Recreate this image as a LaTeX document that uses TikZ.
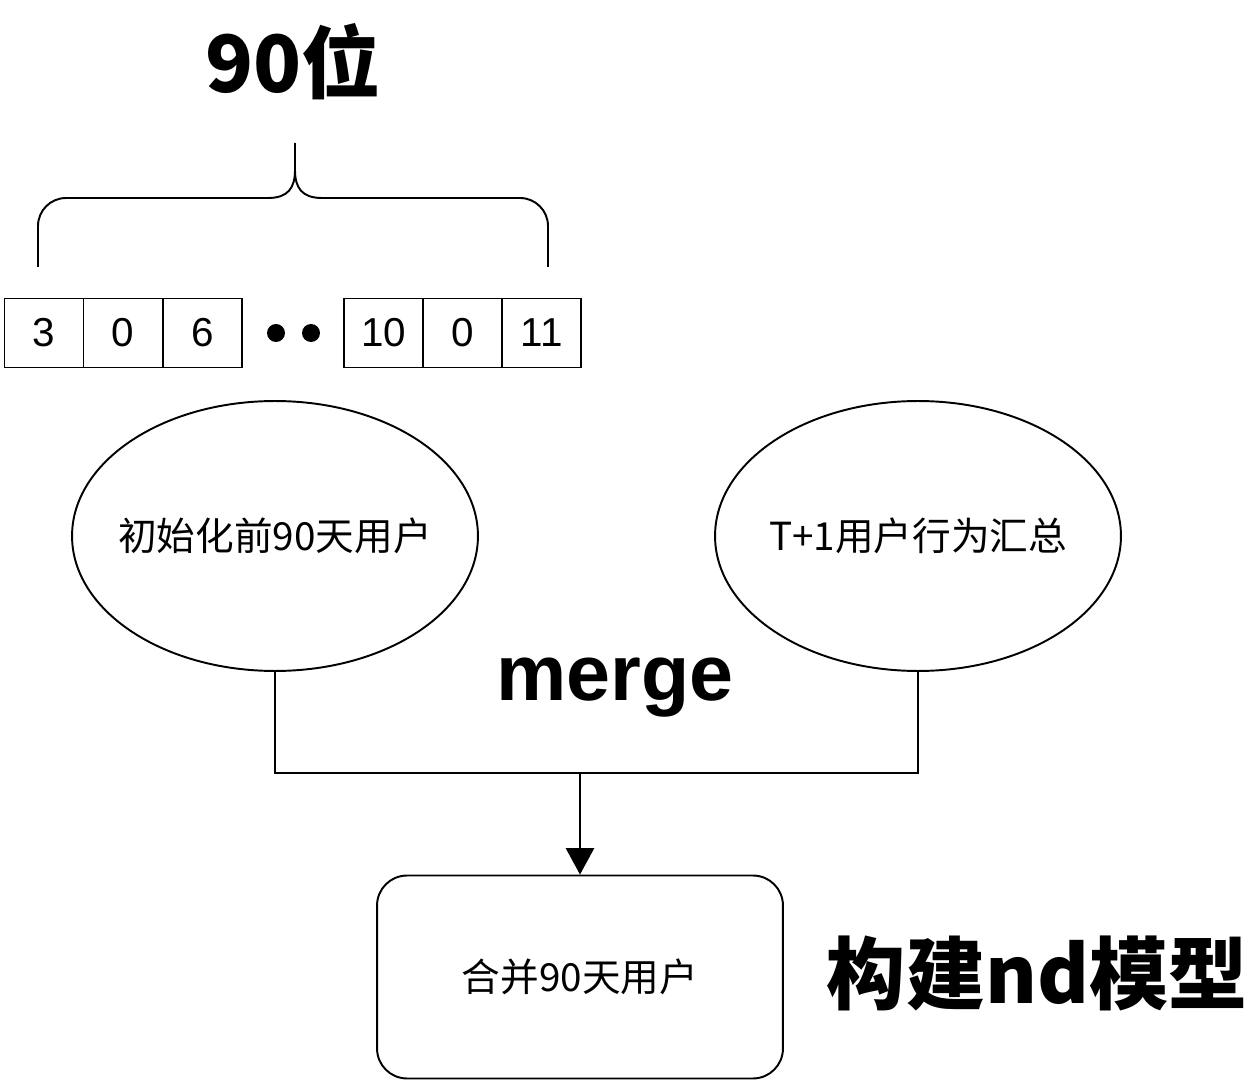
\documentclass[tikz,border=0pt]{standalone}
\usepackage{fontspec}
\setmainfont{Liberation Sans}
\newfontfamily\cjk{Noto Sans CJK SC}
\usetikzlibrary{shapes.geometric,arrows.meta}
\begin{document}
\begin{tikzpicture}[x=0.02cm,y=-0.02cm,
  line width=1.1pt,
  cell/.style={draw,minimum width=1.58cm,minimum height=1.38cm,inner sep=0,font=\fontsize{23}{26}\selectfont},
  oval/.style={draw,ellipse,minimum width=8.12cm,minimum height=5.4cm,inner sep=0},
  ovaltxt/.style={font=\cjk\fontsize{22}{26}\selectfont,inner sep=0},
  bigtxt/.style={font=\cjk\bfseries\fontsize{45}{50}\selectfont},
  rbox/.style={draw,rounded corners=0.6cm,minimum width=8.12cm,minimum height=4.06cm,inner sep=0,font=\cjk\fontsize{22}{26}\selectfont}]
\useasboundingbox (0,0) rectangle (1252,1084);
% title
\node[bigtxt] (t90) at (293,62) {90位};
% brace
\draw[rounded corners=0.56cm] (38,267) -- (38,198) -- (200,198);
\draw (200,198) -- (268,198) .. controls (288,198) and (295,188) .. (295,170) -- (295,143);
\draw[rounded corners=0.56cm] (548,267) -- (548,198) -- (400,198);
\draw (400,198) -- (322,198) .. controls (302,198) and (295,188) .. (295,170);
% cells
\node[cell] (c1) at (44,333) {3};
\node[cell] (c2) at (123,333) {0};
\node[cell] (c3) at (202.5,333) {6};
\fill (276,333) circle (9);
\fill (311,333) circle (9);
\node[cell] (c4) at (383.5,333) {10};
\node[cell] (c5) at (462.5,333) {0};
\node[cell] (c6) at (541.5,333) {11};
% ellipses
\node[oval] (e1) at (275,536) {};
\node[ovaltxt] (e1t) at (e1.center) {初始化前90天用户};
\node[oval] (e2) at (918,536) {};
\node[ovaltxt] (e2t) at (e2.center) {T+1用户行为汇总};
\node[font=\bfseries\fontsize{45}{50}\selectfont] (mg) at (615,688) {merge};
% result
\node[rbox] (r) at (580,977) {合并90天用户};
\node[bigtxt,anchor=west,inner sep=0] (nd) at (826,973) {构建nd模型};
% connectors
\coordinate (j) at (580,773);
\draw (e1.south) |- (j) -| (e2.south);
\draw[-{Triangle[length=15pt,width=16pt]}] (j) -- (r.north);
\end{tikzpicture}
\end{document}
